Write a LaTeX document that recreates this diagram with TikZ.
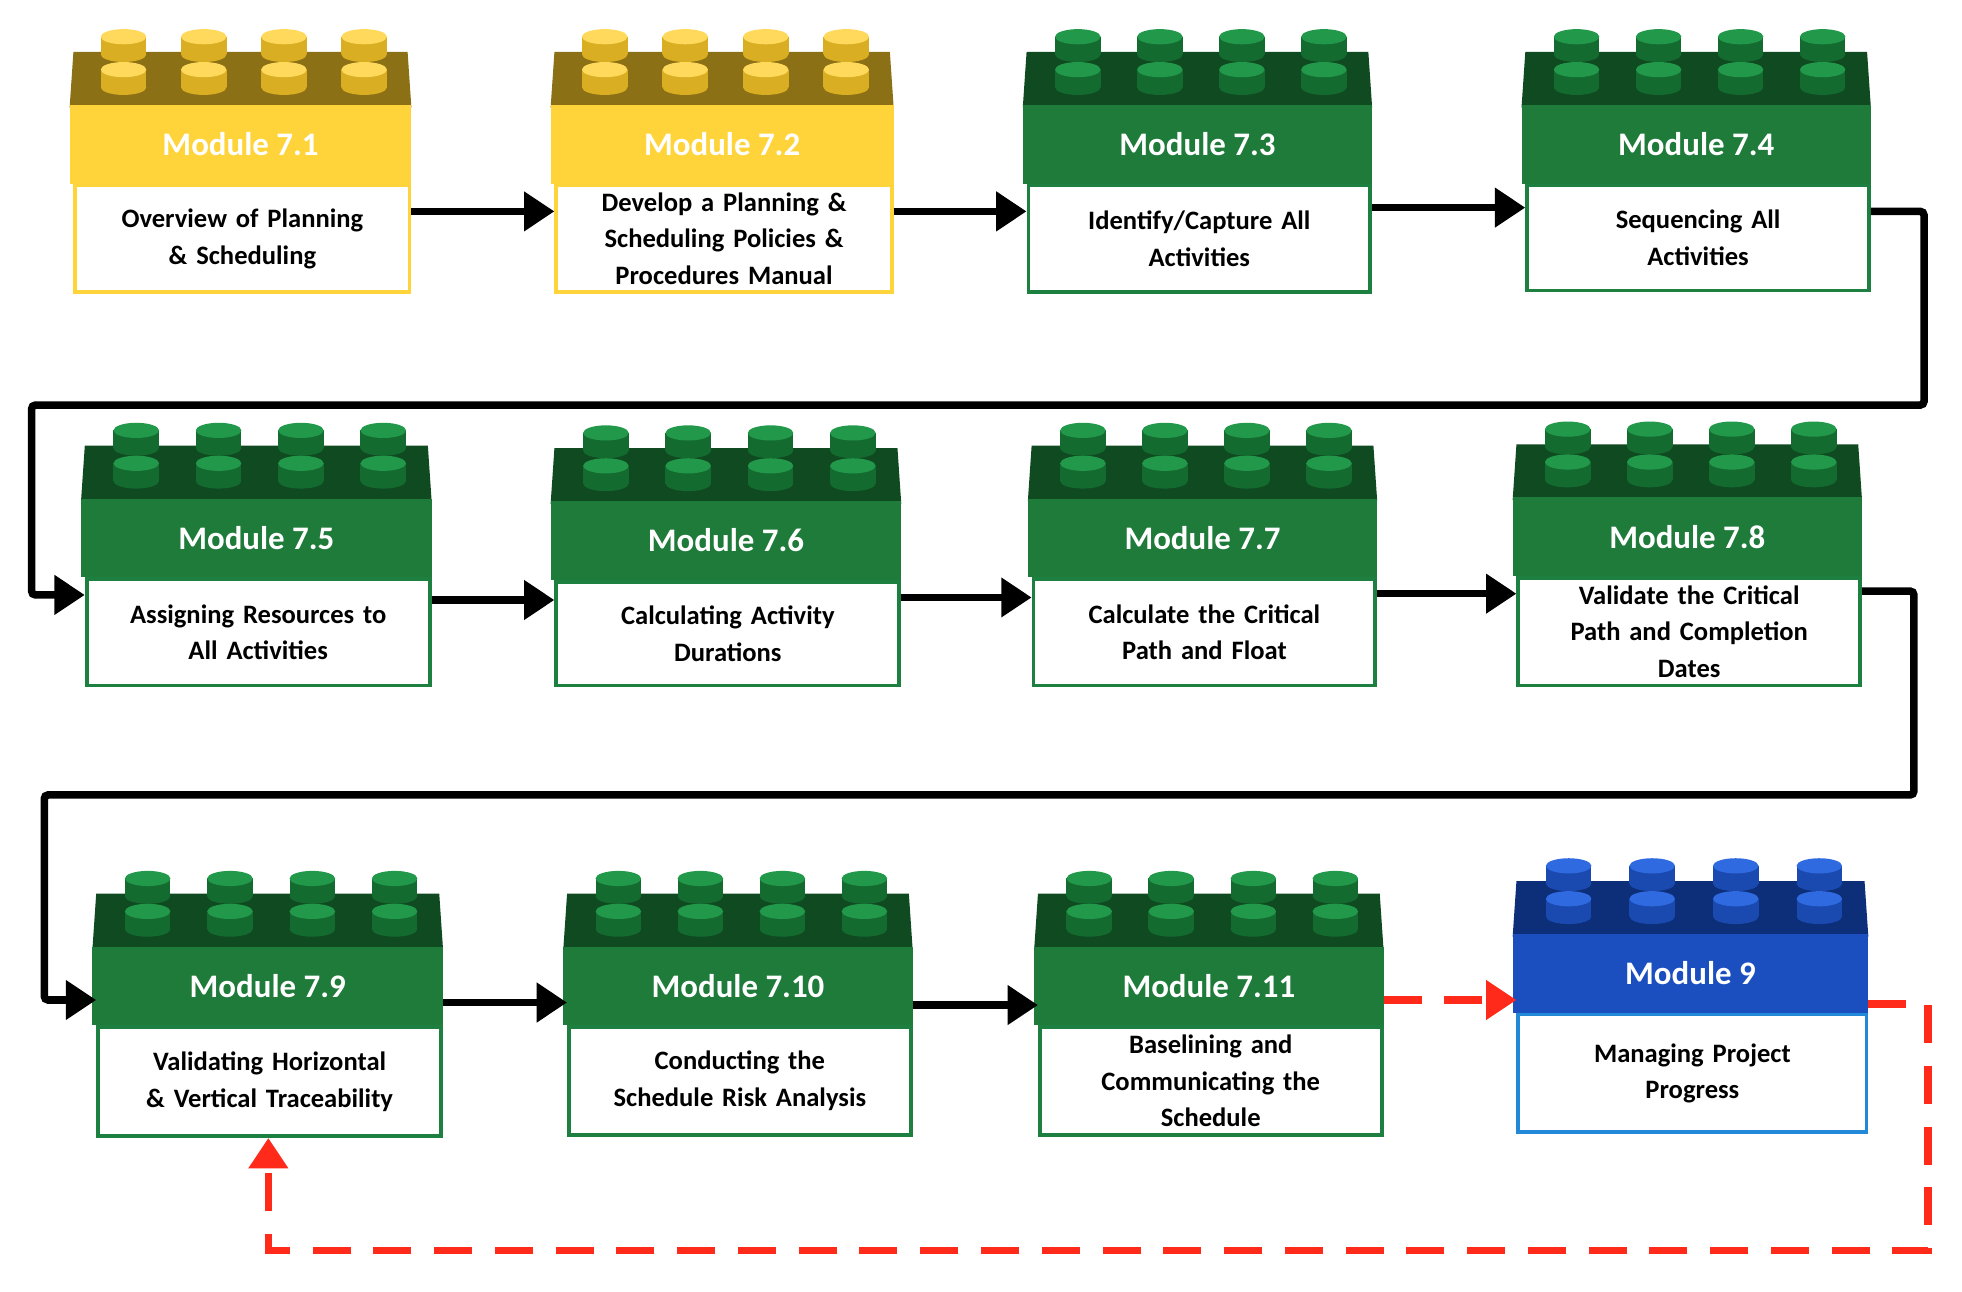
\documentclass[tikz,border=0pt]{standalone}
\usepackage{fontspec}
\setmainfont{Carlito}
\usetikzlibrary{arrows.meta}
\definecolor{yface}{HTML}{FFD43B}\definecolor{ydark}{HTML}{8C7015}\definecolor{ystud}{HTML}{D9AE22}\definecolor{ylight}{HTML}{FFD95C}\definecolor{yborder}{HTML}{FFD43B}
\definecolor{gface}{HTML}{1E7B3A}\definecolor{gdark}{HTML}{0F4A20}\definecolor{gstud}{HTML}{146B30}\definecolor{glight}{HTML}{22994A}\definecolor{gborder}{HTML}{1E8040}
\definecolor{bface}{HTML}{1B4FBF}\definecolor{bdark}{HTML}{0D2F7A}\definecolor{bstud}{HTML}{1A4AB0}\definecolor{blight}{HTML}{2F6AE0}\definecolor{bborder}{HTML}{2288D8}
\definecolor{dred}{HTML}{FF2A1A}
\tikzset{
 box/.style={draw,line width=3,fill=white,anchor=north west,align=center,inner sep=2,font=\fontsize{21}{29}\selectfont\bfseries},
 ttl/.style={text=white,font=\fontsize{26}{30}\selectfont\bfseries},
 flow/.style={line width=6,-{Triangle[length=24,width=30]}},
 red/.style={draw=dred,line width=6,dash pattern=on 30 off 18,-{Triangle[length=24,width=30]}}
}
\newcommand\stud[3]{%
 \fill[#3stud] (#1-18,#2) rectangle (#1+18,#2+14);
 \fill[#3stud] (#1,#2+14) ellipse (18 and 6);
 \fill[#3light] (#1,#2) ellipse (18 and 6);}
\newcommand\brick[7]{%
 \pgfmathsetmacro\w{#3-#2}\pgfmathsetmacro\h{#5-#4}
 \fill[#6dark] (#2-3,#4-60) -- (#3+3,#4-60) -- (#3,#4-104) -- (#2,#4-104) -- cycle;
 \fill[#6face] (#2-3,#4-62) rectangle (#3+3,#4);
 \foreach \f in {0.15,0.39,0.63,0.87}{\stud{#2+\f*\w}{#4-116}{#6}}
 \foreach \f in {0.15,0.39,0.63,0.87}{\stud{#2+\f*\w}{#4-90}{#6}}
 \node[ttl] (#1t) at ({(#2+#3)/2},#4-31) {#7};
 \node[box,draw=#6border,minimum width=\w,minimum height=\h,text width=\w-20] (#1) at (#2,#4)}
\begin{document}
\begin{tikzpicture}[x=1pt,y=-1pt]
\useasboundingbox (0,0) rectangle (1550,1020);
\fill[white] (0,0) rectangle (1550,1020);
\brick{a}{58}{322}{145}{229}{y}{Module 7.1}{Overview of Planning\\ \& Scheduling};
\brick{b}{438}{703}{145}{229}{y}{Module 7.2}{Develop a Planning \&\\ Scheduling Policies \&\\ Procedures Manual};
\brick{c}{811}{1081}{145}{229}{g}{Module 7.3}{Identify/Capture All\\ Activities};
\brick{d}{1205}{1475}{145}{228}{g}{Module 7.4}{Sequencing All\\ Activities};
\brick{e}{67}{338}{456}{540}{g}{Module 7.5}{Assigning Resources to\\ All Activities};
\brick{f}{438}{709}{458}{540}{g}{Module 7.6}{Calculating Activity\\ Durations};
\brick{g}{815}{1085}{456}{540}{g}{Module 7.7}{Calculate the Critical\\ Path and Float};
\brick{h}{1198}{1468}{455}{540}{g}{Module 7.8}{Validate the Critical\\ Path and Completion\\ Dates};
\brick{i}{76}{347}{810}{896}{g}{Module 7.9}{Validating Horizontal\\ \& Vertical Traceability};
\brick{j}{448}{718}{810}{895}{g}{Module 7.10}{Conducting the\\ Schedule Risk Analysis};
\brick{k}{820}{1090}{810}{895}{g}{Module 7.11}{Baselining and\\ Communicating the\\ Schedule};
\brick{l}{1198}{1473}{800}{893}{b}{Module 9}{Managing Project\\ Progress};
\coordinate (w1) at (1520,320); \coordinate (w2) at (25,320);
\coordinate (v1) at (1512,628); \coordinate (v2) at (35,628);
\coordinate (r1) at (1523,988); \coordinate (r2) at (212,988);
\draw[flow] (a.east|-0,167) -- (b.west|-0,167);
\draw[flow] (b.east|-0,167) -- (c.west|-0,167);
\draw[flow] (c.east|-0,164) -- (d.west|-0,164);
\draw[flow,rounded corners=3] (d.east|-0,167) -| (w1) -- (w2) |- (e.west|-0,470);
\draw[flow] (e.east|-0,474) -- (f.west|-0,474);
\draw[flow] (f.east|-0,472) -- (g.west|-0,472);
\draw[flow] (g.east|-0,469) -- (h.west|-0,469);
\draw[flow,rounded corners=3] (h.east|-0,467) -| (v1) -- (v2) |- (i.west|-0,790);
\draw[flow] (i.east|-0,792) -- (j.west|-0,792);
\draw[flow] (j.east|-0,794) -- (k.west|-0,794);
\draw[red] (k.east|-0,790) -- (l.west|-0,790);
\draw[red] (l.east|-0,793) -| (r1) -- (r2) -- (i.south-|r2);
\end{tikzpicture}
\end{document}
